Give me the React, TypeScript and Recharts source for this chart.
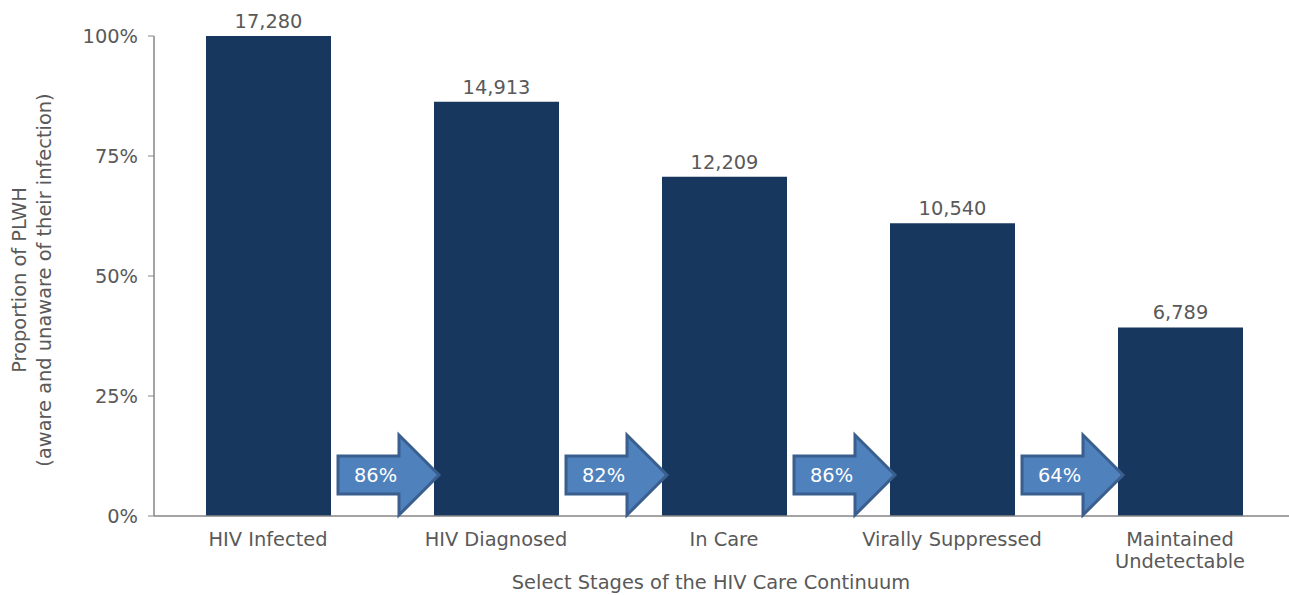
import React from 'react';
import { BarChart, Bar, XAxis, YAxis, LabelList } from 'recharts';

const stages = ['HIV Infected', 'HIV Diagnosed', 'In Care', 'Virally Suppressed', 'Maintained\nUndetectable'];
const counts = [17280, 14913, 12209, 10540, 6789];
// stage-to-stage retention shown in the arrows (none for the first bar)
const stepPercents = [null, 86, 82, 86, 64];
const yTicks = [0, 25, 50, 75, 100];

const data = stages.map((stage, i) => ({
  stage,
  count: counts[i],
  pct: (counts[i] / counts[0]) * 100,
  step: stepPercents[i]
}));

const FONT = '"DejaVu Sans", Verdana, sans-serif';
const FS = 19.4;
const GREY = '#595959';
const AXIS = '#868686';

const StageTick = (props: any) => {
  const { x, y, payload } = props;
  const lines = String(payload.value).split('\n');
  return (
    <text x={x} y={y + 22} textAnchor="middle" fill={GREY} fontSize={FS} fontFamily={FONT}>
      {lines.map((l, i) => (
        <tspan key={i} x={x} dy={i === 0 ? 0 : 22}>{l}</tspan>
      ))}
    </text>
  );
};

const Arrow = (props: any) => {
  const { x, y, height, value } = props;
  if (value == null) return null;
  const base = y + height;
  const tipX = x + 5;
  const tipY = base - 41;
  const headLen = 40;
  const bodyLen = 61;
  const bodyHalf = 19;
  const headHalf = 40;
  const hx = tipX - headLen;
  const lx = hx - bodyLen;
  const pts = [
    [lx, tipY - bodyHalf],
    [hx, tipY - bodyHalf],
    [hx, tipY - headHalf],
    [tipX, tipY],
    [hx, tipY + headHalf],
    [hx, tipY + bodyHalf],
    [lx, tipY + bodyHalf]
  ].map((p) => p.join(',')).join(' ');
  return (
    <g>
      <polygon points={pts} fill="#4F81BD" stroke="#3A5F8E" strokeWidth={3} strokeLinejoin="miter" />
      <text x={lx + 16} y={tipY + 7} fill="#fff" fontSize={FS} fontFamily={FONT}>{value}%</text>
    </g>
  );
};

const YTitle = (props: any) => {
  const { viewBox } = props;
  const cy = viewBox.y + viewBox.height / 2 + 4;
  return (
    <text transform={`rotate(-90, 0, ${cy})`} x={0} y={cy} textAnchor="middle" fill={GREY} fontSize={FS} fontFamily={FONT}>
      <tspan x={0} dy={26}>Proportion of PLWH</tspan>
      <tspan x={0} dy={25}>(aware and unaware of their infection)</tspan>
    </text>
  );
};

const XTitle = (props: any) => {
  const { viewBox } = props;
  return (
    <text x={viewBox.x + viewBox.width / 2 - 13} y={viewBox.y + viewBox.height - 6} textAnchor="middle" fill={GREY} fontSize={FS} fontFamily={FONT}>
      Select Stages of the HIV Care Continuum
    </text>
  );
};

export default function App() {
  return (
    <div style={{ width: 1289, height: 595, background: '#fff' }}>
      <style>{'body{margin:0}'}</style>
      <BarChart width={1289} height={595} data={data} margin={{ top: 36, right: -5, bottom: 0, left: 1 }} barSize={125}>
        <XAxis
          dataKey="stage"
          height={79}
          interval={0}
          tick={<StageTick />}
          tickLine={false}
          axisLine={{ stroke: AXIS, strokeWidth: 1.5 }}
          label={<XTitle />}
        />
        <YAxis
          width={153}
          domain={[0, 100]}
          ticks={yTicks}
          tickFormatter={(v) => `${v}%`}
          tick={{ fill: GREY, fontSize: FS, fontFamily: FONT }}
          tickSize={6}
          tickMargin={10}
          tickLine={{ stroke: AXIS }}
          axisLine={{ stroke: AXIS, strokeWidth: 1.5 }}
          label={<YTitle />}
        />
        <Bar dataKey="pct" fill="#17375E" isAnimationActive={false}>
          <LabelList
            dataKey="count"
            position="top"
            offset={8}
            formatter={(v: any) => Number(v).toLocaleString('en-US')}
            fill={GREY}
            fontSize={FS}
            fontFamily={FONT}
          />
          <LabelList dataKey="step" content={<Arrow />} />
        </Bar>
      </BarChart>
    </div>
  );
}
